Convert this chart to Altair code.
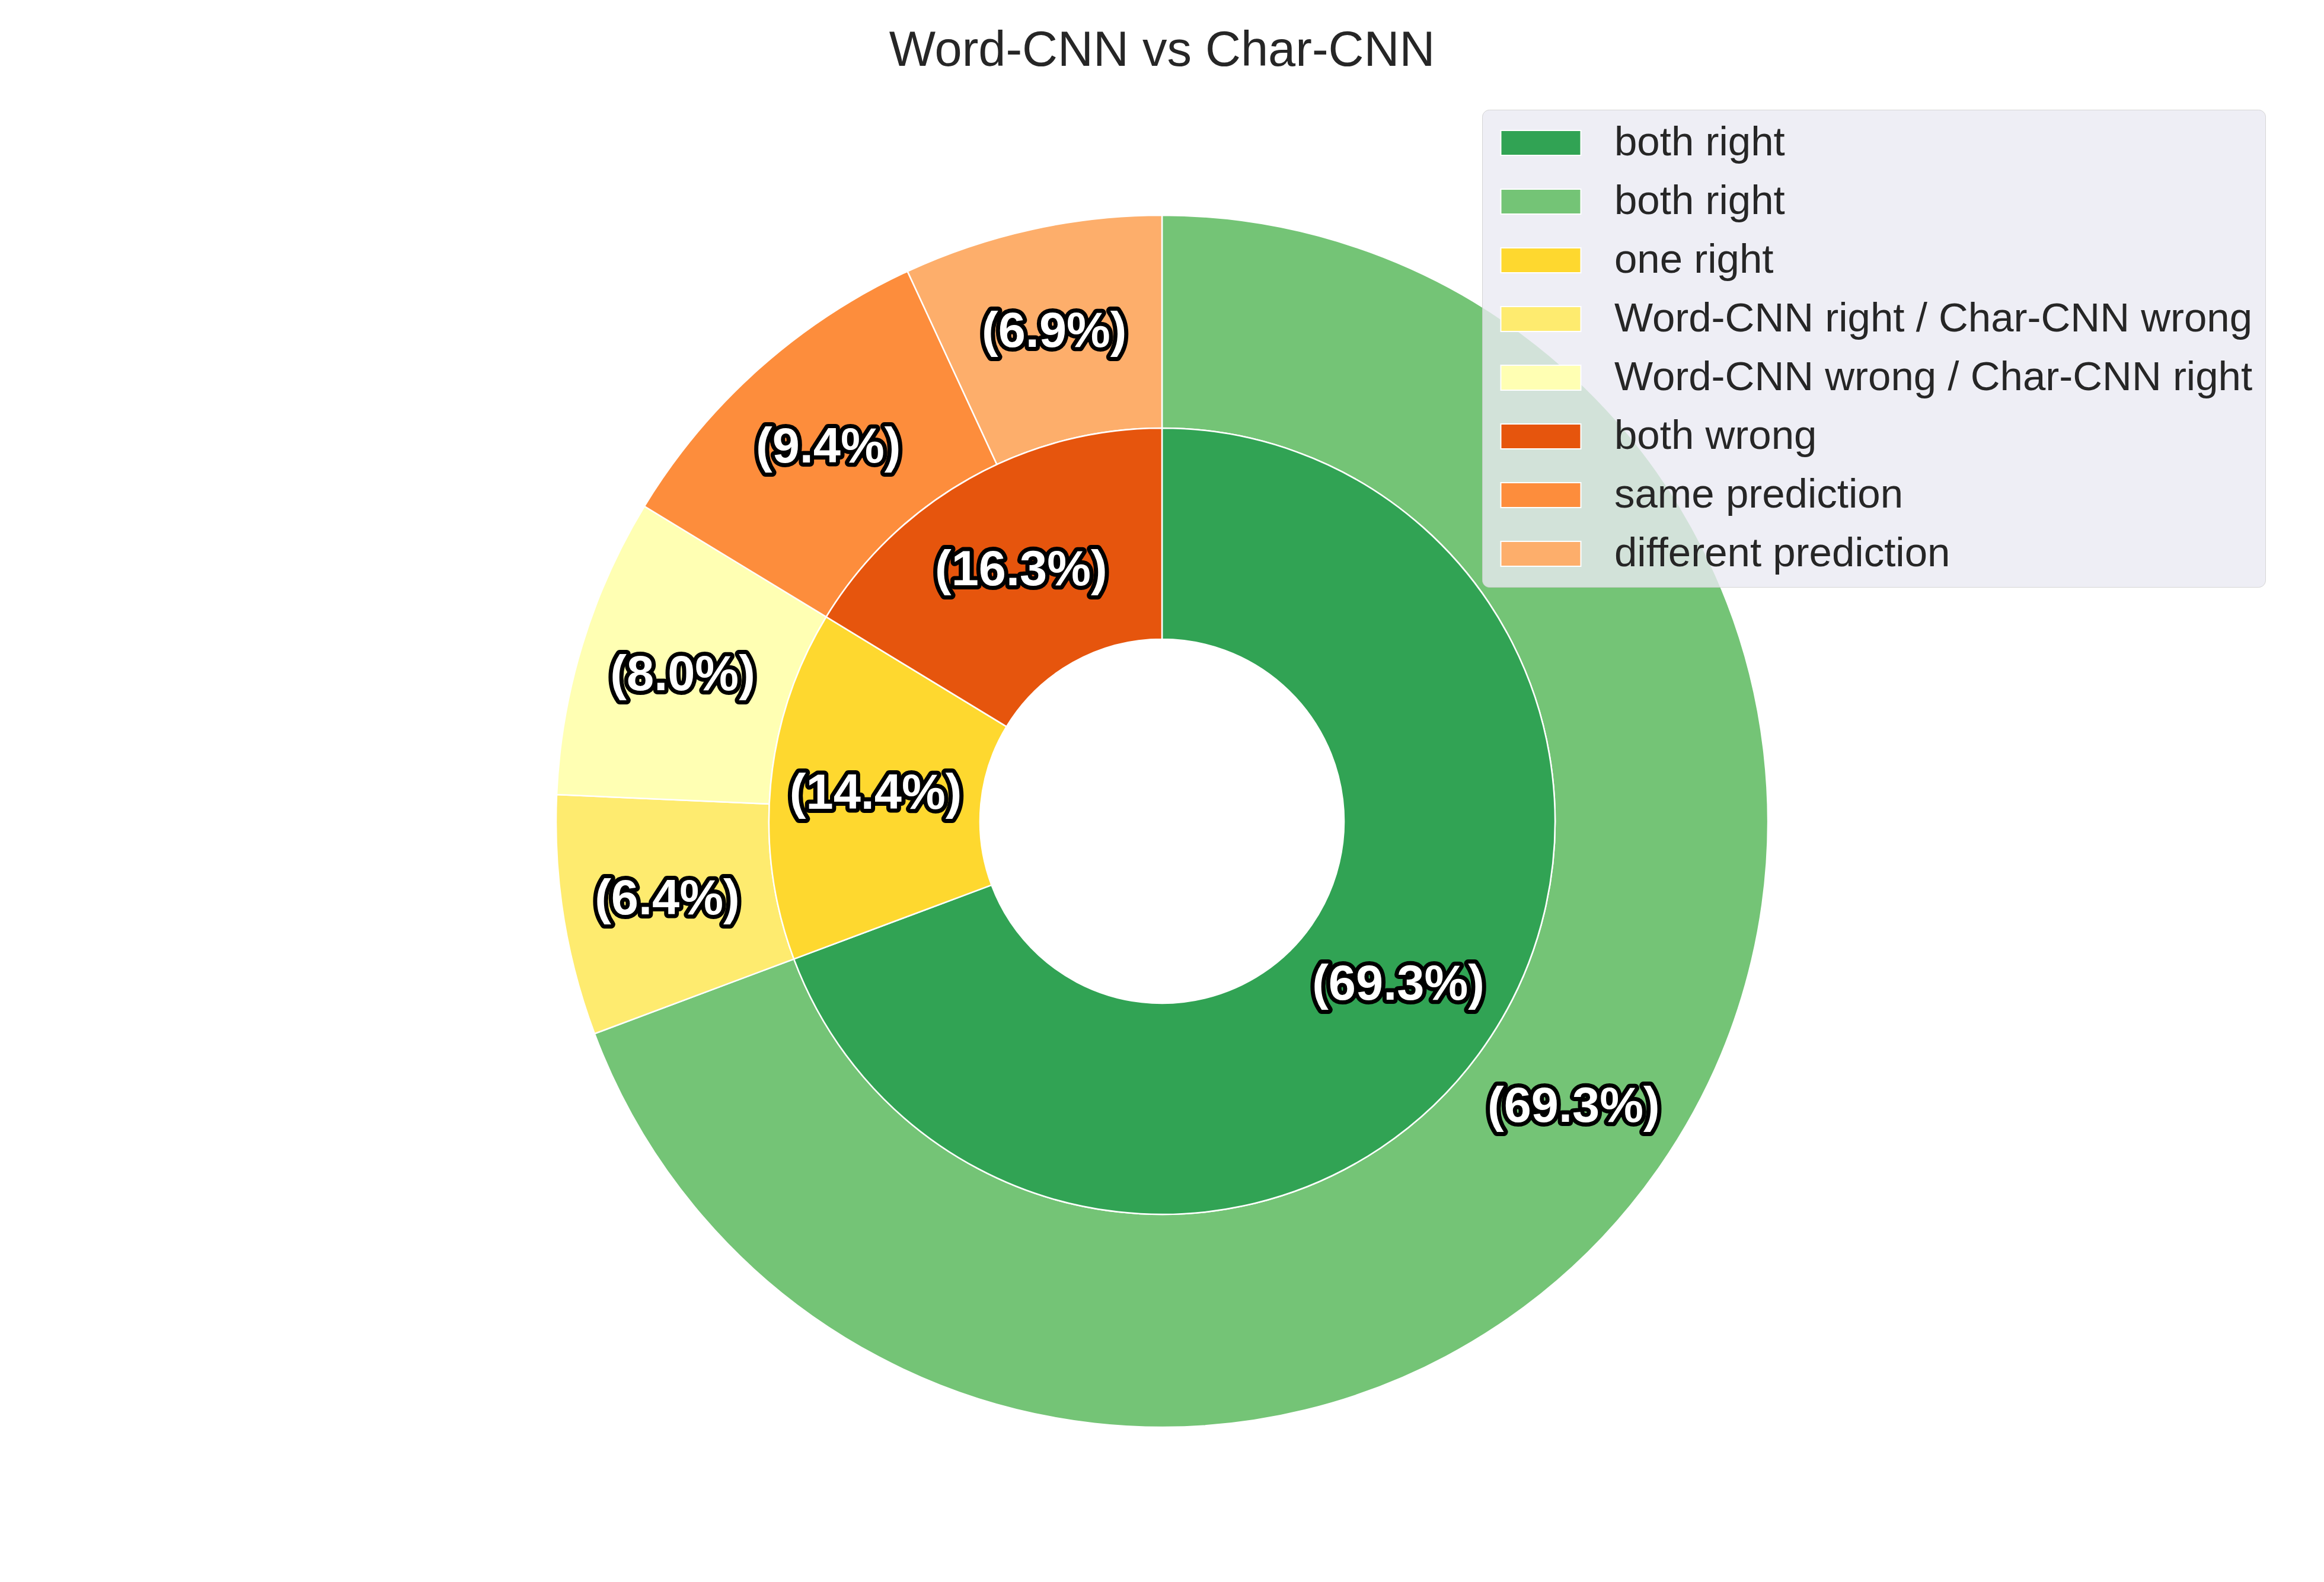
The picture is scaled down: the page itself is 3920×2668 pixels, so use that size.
import altair as alt
import pandas as pd

# ---- data ----
legend_keys = ["both right", "both right ", "one right",
               "Word-CNN right / Char-CNN wrong", "Word-CNN wrong / Char-CNN right",
               "both wrong", "same prediction", "different prediction"]
legend_colors = ["#31a354", "#74c476", "#fed82f", "#feeb6f", "#ffffb3",
                 "#e6550d", "#fd8d3c", "#fdae6b"]

inner_keys = ["both right", "one right", "both wrong"]
inner_vals = [69.3, 14.4, 16.3]

outer_keys = ["both right ", "Word-CNN right / Char-CNN wrong",
              "Word-CNN wrong / Char-CNN right", "same prediction", "different prediction"]
outer_vals = [69.3, 6.4, 8.0, 9.4, 6.9]

rows = []
for i, (k, v) in enumerate(zip(inner_keys, inner_vals)):
    rows.append({"ring": "inner", "key": k, "value": v, "ord": i, "label": f"({v:.1f}%)"})
for i, (k, v) in enumerate(zip(outer_keys, outer_vals)):
    rows.append({"ring": "outer", "key": k, "value": v, "ord": i, "label": f"({v:.1f}%)"})
df = pd.DataFrame(rows)

# ---- layout ----
PAD_TOP = 140
W, H = 3904, 2500
CX = 1952
CY = 1385 - 8 - PAD_TOP
R_OUT, R_MID, R_IN = 1022, 663, 307
LBL_IN, LBL_OUT = 485, 845
FONT = "Liberation Sans"

base = alt.Chart(df)

color = alt.Color(
    "key:N",
    scale=alt.Scale(domain=legend_keys, range=legend_colors),
    sort=legend_keys,
    legend=alt.Legend(
        title=None,
        orient="none",
        legendX=2492,
        legendY=37,
        labelFont=FONT,
        labelFontSize=69,
        labelColor="#262626",
        labelLimit=3000,
        labelOffset=89,
        symbolType="M-2,-0.62H2V0.62H-2Z",
        symbolSize=4556,
        symbolOffset=43,
        symbolStrokeColor="white",
        symbolStrokeWidth=2,
        symbolOpacity=1,
        fillColor="rgba(234,234,242,0.8)",
        strokeColor="rgba(204,204,204,0.8)",
        cornerRadius=12,
        padding=21,
        rowPadding=29,
    ),
)

def ring_layers(ring, r1, r2, rl):
    b = base.transform_filter(alt.datum.ring == ring)
    arc = b.mark_arc(radius=r1, radius2=r2, stroke="white", strokeWidth=2.5).encode(
        theta=alt.Theta("value:Q", stack=True),
        color=color,
        order=alt.Order("ord:Q"),
        x=alt.value(CX),
        y=alt.value(CY),
    )
    enc = dict(
        theta=alt.Theta("value:Q", stack=True),
        order=alt.Order("ord:Q"),
        text="label:N",
        x=alt.value(CX),
        y=alt.value(CY),
    )
    halo = b.mark_text(radius=rl, font=FONT, fontSize=83, fontWeight="bold",
                       fill="black", stroke="black", strokeWidth=14, strokeJoin="round",
                       baseline="middle", align="center").encode(**enc)
    txt = b.mark_text(radius=rl, font=FONT, fontSize=83, fontWeight="bold",
                      fill="white", baseline="middle", align="center").encode(**enc)
    return [arc, halo, txt]

chart = alt.layer(
    *ring_layers("outer", R_OUT, R_MID, LBL_OUT),
    *ring_layers("inner", R_MID, R_IN, LBL_IN),
).resolve_scale(theta="shared").properties(
    width=W,
    height=H,
    autosize=alt.AutoSizeParams(type="none"),
    padding={"top": PAD_TOP, "left": 0, "right": 0, "bottom": 0},
    title=alt.TitleParams("Word-CNN vs Char-CNN", font=FONT, fontSize=83,
                          fontWeight="normal", color="#262626", anchor="middle",
                          frame="group", offset=20),
).configure_view(stroke=None)

chart.save("out.html", embed_options={"renderer": "svg", "actions": False})
